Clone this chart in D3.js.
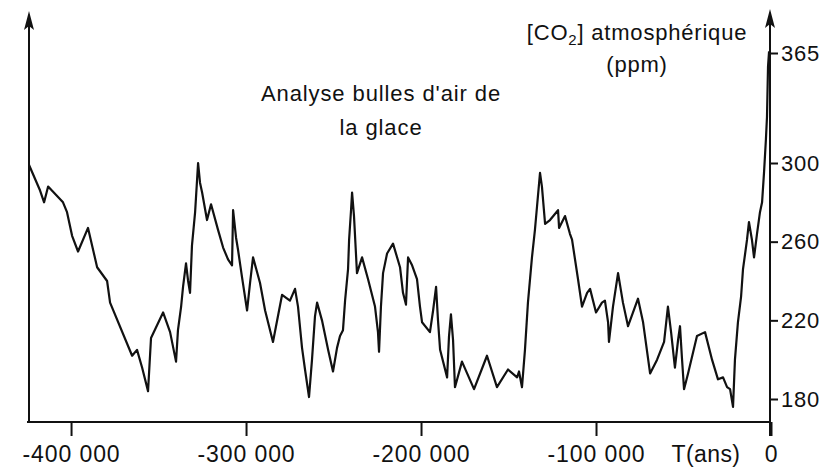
<!DOCTYPE html>
<html><head><meta charset="utf-8">
<script src="https://cdn.jsdelivr.net/npm/d3@7/dist/d3.min.js"></script>
<style>
html,body{margin:0;padding:0;background:#fff;}
svg text{font-family:"Liberation Sans",Arial,sans-serif;fill:#111;}
</style></head>
<body><svg id="c" width="828" height="470"></svg>
<script>
const years = [-424000,-417700,-415400,-413100,-404600,-402300,-399400,-396000,-390300,-385100,
-379400,-377700,-365100,-362300,-359400,-356000,-354300,-347400,-343400,-340000,
-338900,-337100,-336000,-334300,-333100,-332000,-330900,-329100,-327400,-326300,
-325100,-322300,-320000,-316000,-313100,-310300,-308000,-307400,-305700,-304600,
-302300,-299400,-297700,-296000,-292000,-289100,-284600,-279400,-274900,-272000,
-270300,-268000,-266300,-264000,-262300,-260600,-259400,-256600,-253100,-250300,
-248000,-246300,-244600,-243400,-241700,-241100,-240000,-239400,-238300,-236600,
-233700,-230300,-226300,-224600,-224000,-222900,-221700,-219400,-216000,-212000,
-210300,-208600,-207400,-205100,-202300,-200600,-199400,-194900,-193100,-191400,
-190300,-189100,-185100,-184000,-182900,-181700,-180600,-176600,-169700,-162300,
-156600,-150300,-145100,-144000,-142300,-140600,-138900,-136600,-134900,-133700,
-132000,-130900,-129100,-126300,-121700,-121100,-117700,-114900,-113700,-110300,
-108000,-105100,-103400,-100000,-96600,-94900,-93100,-92600,-90300,-87400,
-84600,-81700,-76000,-73100,-69100,-65100,-61100,-58900,-57100,-54900,
-53100,-52000,-50900,-49700,-47400,-42300,-37700,-33700,-30300,-27400,
-25100,-23400,-21700,-20600,-18900,-17100,-16000,-13700,-12600,-10900,
-9700,-8000,-6300,-5100,-4000,-2900,-2300,-1700,-1100];
const co2 = [299,286,280,288,280,275,263,255,267,247,
240,229,202,205,196,184,211,224,214,199,
215,227,237,249,240,234,258,275,300,290,
285,271,279,266,257,251,248,276,262,256,
242,225,239,252,239,225,209,233,230,236,
227,206,195,181,200,222,229,220,205,194,
206,212,215,230,246,261,276,285,273,244,
252,241,227,214,204,227,244,254,259,247,
234,228,252,248,241,227,219,214,225,237,
220,205,191,212,223,210,186,199,185,202,
186,195,191,194,186,205,229,252,266,278,
295,288,269,271,276,267,273,264,261,241,
227,234,236,224,229,230,219,209,227,244,
229,217,231,219,193,200,209,227,214,196,
210,217,201,185,193,212,214,200,190,191,
186,185,176,200,219,232,246,261,270,261,
252,264,275,280,295,314,327,357,366];
const xTickValues = [-400000,-300000,-200000,-100000,0];
const xTickLabels = ["-400 000","-300 000","-200 000","-100 000","0"];
const yTickValues = [180,220,260,300,365];
const xUnitLabel = "T(ans)";
const titleLines = ["Analyse bulles d'air de","la glace"];

const svg = d3.select("#c");
const x = d3.scaleLinear().domain([-424600,0]).range([28,771]);
const y = d3.scaleLinear().domain([180,300,365]).range([399,163,53]);
const baseY = 422;
const fs = "22px";

// bottom axis
const xAxis = d3.axisBottom(x).tickValues(xTickValues)
  .tickFormat((d,i)=>xTickLabels[i]).tickSize(14).tickSizeOuter(0);
const gx = svg.append("g").attr("transform",`translate(0,${baseY})`).call(xAxis);
gx.select(".domain").attr("stroke","#111").attr("stroke-width",2).attr("d",`M27,0H771`);
gx.selectAll(".tick line").attr("stroke","#111").attr("stroke-width",2);
gx.selectAll(".tick text").attr("font-size","23px").attr("letter-spacing","0.9px")
  .attr("font-family","Liberation Sans, Arial, sans-serif").attr("fill","#111")
  .attr("dy",null).attr("y",40);
svg.append("text").attr("x",706).attr("y",baseY+40).attr("text-anchor","middle")
  .attr("font-size","23px").attr("letter-spacing","0.4px").text(xUnitLabel);

// right axis
const rx = 770;
const yAxis = d3.axisRight(y).tickValues(yTickValues).tickSize(8).tickSizeOuter(0);
const gy = svg.append("g").attr("transform",`translate(${rx},0)`).call(yAxis);
gy.select(".domain").remove();
gy.selectAll(".tick line").attr("stroke","#111").attr("stroke-width",2);
gy.selectAll(".tick text").attr("font-size",fs).attr("letter-spacing","0.8px")
  .attr("font-family","Liberation Sans, Arial, sans-serif").attr("fill","#111").attr("x",11);

// vertical axis lines with arrows
function vaxis(xx, top){
  svg.append("line").attr("x1",xx).attr("x2",xx).attr("y1",baseY+1).attr("y2",top+8)
    .attr("stroke","#111").attr("stroke-width",2);
  svg.append("path").attr("d",`M${xx},${top} L${xx-5},${top+19} L${xx},${top+15} L${xx+5},${top+19} Z`)
    .attr("fill","#111");
}
vaxis(29, 11);
vaxis(rx, 9);
svg.append("line").attr("x1",rx).attr("x2",rx).attr("y1",baseY).attr("y2",baseY+14)
  .attr("stroke","#111").attr("stroke-width",2);

// data line
const pts = years.map((d,i)=>[d,co2[i]]);
const line = d3.line().x(d=>x(d[0])).y(d=>y(d[1]));
svg.append("path").datum(pts).attr("d",line).attr("fill","none")
  .attr("stroke","#111").attr("stroke-width",2.2).attr("stroke-linejoin","round");

// texts
svg.selectAll(".title").data(titleLines).enter().append("text")
  .attr("x",381).attr("y",(d,i)=>101+i*34).attr("text-anchor","middle")
  .attr("font-size",fs).attr("letter-spacing","0.9px").text(d=>d);

const t1 = svg.append("text").attr("x",637).attr("y",40).attr("text-anchor","middle")
  .attr("font-size",fs).attr("letter-spacing","0.8px");
t1.append("tspan").text("[CO");
t1.append("tspan").attr("font-size","15px").attr("dy",5).text("2");
t1.append("tspan").attr("dy",-5).text("] atmosphérique");
svg.append("text").attr("x",637).attr("y",72).attr("text-anchor","middle")
  .attr("font-size",fs).attr("letter-spacing","0.8px").text("(ppm)");
</script></body></html>
